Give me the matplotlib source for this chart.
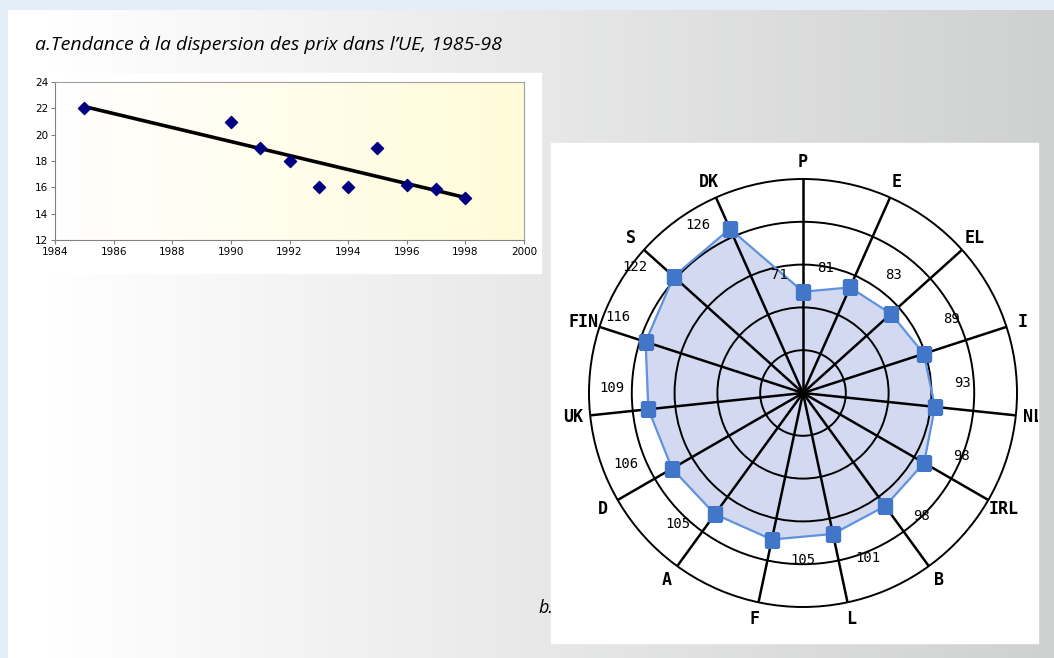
import numpy as np
import matplotlib.pyplot as plt
from matplotlib.patches import Rectangle

# --- données a. : dispersion des prix
years = [1985, 1990, 1991, 1992, 1993, 1994, 1995, 1996, 1997, 1998]
dispersion = [22.0, 21.0, 19.0, 18.0, 16.0, 16.0, 19.0, 16.2, 15.9, 15.2]
x_ticks = [1984, 1986, 1988, 1990, 1992, 1994, 1996, 1998, 2000]
y_ticks = [12, 14, 16, 18, 20, 22, 24]

# --- données b. : niveaux de prix par pays
countries = ['P', 'E', 'EL', 'I', 'NL', 'IRL', 'B', 'L', 'F', 'A', 'D', 'UK', 'FIN', 'S', 'DK']
levels = [71, 81, 83, 89, 93, 98, 98, 101, 105, 105, 106, 109, 116, 122, 126]
rings = [30, 60, 90, 120]
r_max = 150

W, H = 1054, 658
fig = plt.figure(figsize=(W / 100, H / 100), dpi=100)

# fond : bord bleuté + dégradé gris
bg = fig.add_axes([0, 0, 1, 1])
bg.set_xlim(0, W)
bg.set_ylim(H, 0)
bg.axis('off')
bg.add_patch(Rectangle((0, 0), W, H, color='#e3eef7', zorder=0))
grad = np.linspace(0, 1, 400)
grad = np.clip((grad * W - 40) / (W - 40), 0, 1)
cols = np.array([1.0, 1.0, 1.0]) * (1 - grad[:, None]) + np.array([0.812, 0.816, 0.816]) * grad[:, None]
bg.imshow(cols[None, :, :], extent=[8, W, H, 10], aspect='auto', zorder=1)
bg.add_patch(Rectangle((20, 73), 521, 200, color='white', zorder=2))
radar_box = Rectangle((551, 143), 487, 500, color='white', zorder=2)
bg.add_patch(radar_box)
bg.text(35, 45, 'a.Tendance à la dispersion des prix dans l\u2019UE, 1985-98',
        fontsize=14, fontstyle='italic', family='Open Sans', va='center', ha='left', zorder=3)
bg.text(538, 608, 'b.', fontsize=13, fontstyle='italic', family='Open Sans', va='center', ha='left', zorder=3)

# --- a. nuage de points + tendance
ax = fig.add_axes([55 / W, 1 - 240 / H, (524 - 55) / W, (240 - 82) / H])
ax.set_xlim(1984, 2000)
ax.set_ylim(12, 24)
ygrad = np.linspace(0, 1, 200)[None, :]
ax.imshow(ygrad, extent=[1984, 2000, 12, 24], aspect='auto', cmap=plt.matplotlib.colors.LinearSegmentedColormap.from_list('jaune', ['#ffffff', '#fffbd8']), zorder=0)
coef = np.polyfit(years, dispersion, 1)
ax.plot([years[0], years[-1]], np.polyval(coef, [years[0], years[-1]]), color='black', lw=2.6, zorder=2)
ax.scatter(years, dispersion, marker='D', s=38, color='#000080', zorder=3)
ax.set_xticks(x_ticks)
ax.set_yticks(y_ticks)
ax.tick_params(labelsize=7.5, length=3, width=0.8, color='#808080', pad=2)
for s in ax.spines.values():
    s.set_color('#a0a0a0')
    s.set_linewidth(0.8)
ax.spines['left'].set_color('#808080')
ax.spines['bottom'].set_color('#808080')

# --- b. radar
cx, cy, R = 803, 393, 214
pax = fig.add_axes([(cx - R) / W, (H - cy - R) / H, 2 * R / W, 2 * R / H], projection='polar')
pax.set_theta_zero_location('N')
pax.set_theta_direction(-1)
pax.set_ylim(0, r_max)
pax.patch.set_alpha(0)
pax.set_axisbelow(False)
theta = np.arange(len(countries)) * 2 * np.pi / len(countries)
pax.set_xticks(theta)
pax.set_xticklabels([])
pax.set_yticks(rings)
pax.set_yticklabels([])
pax.xaxis.grid(True, color='black', lw=1.8)
pax.yaxis.grid(True, color='black', lw=1.4)
pax.spines['polar'].set_color('black')
pax.spines['polar'].set_linewidth(1.4)
pax.tick_params(length=0)

th_c = np.append(theta, theta[0])
lv_c = np.append(levels, levels[0])
pax.fill(th_c, lv_c, color='#d3d9f1', zorder=1)
pax.plot(th_c, lv_c, color='#5f93dd', lw=1.6, zorder=3)
pax.plot(theta, levels, ls='none', marker='s', ms=10, color='#4176c8', zorder=4)

offsets = [(-17, 12), (-18, 14), (2, 28), (20, 25), (20, 17), (27, 5), (26, -7), (25, -17),
           (22, -15), (-27, -7), (-33, 3), (-26, 15), (-20, 18), (-28, 7), (-23, 3)]
for t, v, off in zip(theta, levels, offsets):
    pax.annotate(str(v), (t, v), xytext=off, textcoords='offset points', ha='center', va='center',
                 fontsize=10, family='DejaVu Sans Mono', zorder=5)

for t, name in zip(theta, countries):
    txt = pax.text(t, 162, name, ha='center', va='center', fontsize=12, fontweight='bold',
                   family='DejaVu Sans Mono', zorder=5)
    txt.set_clip_on(True)
    txt.set_clip_path(radar_box)

fig.savefig('out.png', dpi=100)
